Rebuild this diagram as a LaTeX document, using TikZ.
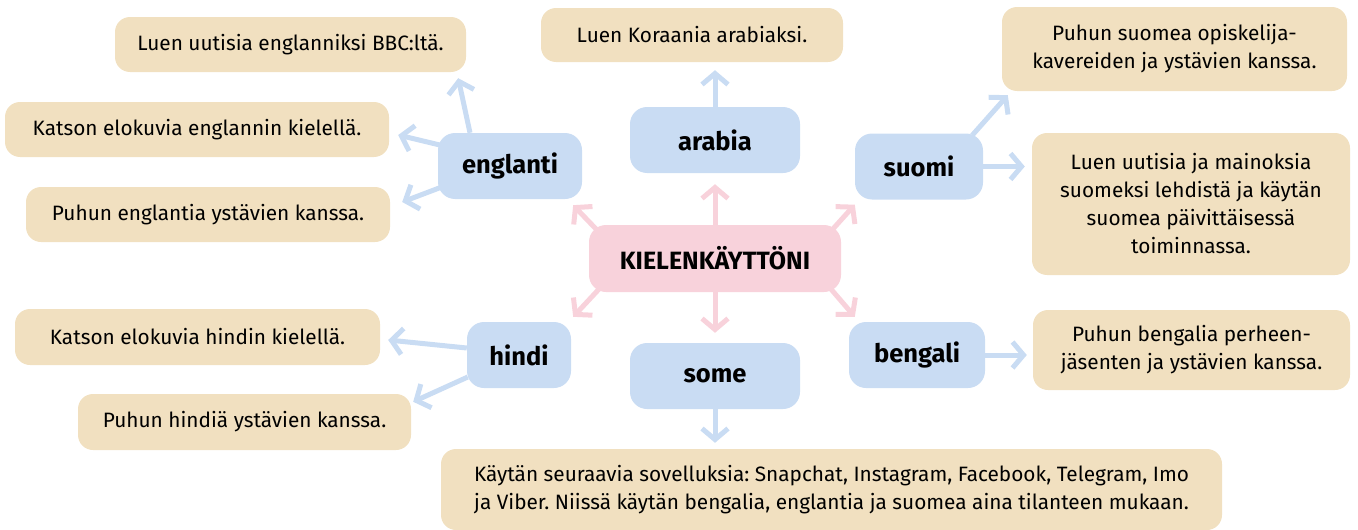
\documentclass[tikz,border=0pt]{standalone}
\usepackage{fontspec}
\setmainfont{Fira Sans}
\usetikzlibrary{arrows.meta,positioning,calc}
\frenchspacing

\definecolor{topicblue}{HTML}{C9DCF3}
\definecolor{notebeige}{HTML}{F1E0C0}
\definecolor{corepink}{HTML}{F8D2DB}

\begin{document}
\begin{tikzpicture}[
  x=1pt,y=-1pt,
  core/.style={fill=corepink,rounded corners=17pt,minimum width=252pt,minimum height=67pt,inner sep=0pt,font=\fontsize{25}{29}\selectfont\bfseries},
  topic/.style={fill=topicblue,rounded corners=17pt,minimum height=66pt,inner sep=0pt,font=\fontsize{25.5}{29}\selectfont\bfseries},
  note/.style={fill=notebeige,rounded corners=15pt,minimum height=55pt,align=center,inner sep=0pt,font=\fontsize{20.8}{28}\selectfont},
  arr/.style={-{Straight Barb[length=11pt,width=26pt]},line width=5pt,topicblue},
  parr/.style={arr,corepink}
]
\useasboundingbox (0,0) rectangle (1358,530);
% ---------- centre and topics ----------
\node[core] (core) at (715,258.5) {KIELENKÄYTTÖNI};
\node[topic,minimum width=144pt] (eng) at (510,166) {englanti};
\node[topic,minimum width=170pt] (ara) at (715,140) {arabia};
\node[topic,minimum width=128pt] (suo) at (919,166.5) {suomi};
\node[topic,minimum width=104pt] (hin) at (519,355) {hindi};
\node[topic,minimum width=170pt] (some) at (715,376) {some};
\node[topic,minimum width=136pt] (ben) at (917,355) {bengali};
% ---------- notes ----------
\node[note,minimum width=351pt] (bbc) at (290.5,44.5) {Luen uutisia englanniksi BBC:ltä.};
\node[note,minimum width=384pt] (kats) at (197,129.5) {Katson elokuvia englannin kielellä.};
\node[note,minimum width=364pt] (puen) at (208,214.5) {Puhun englantia ystävien kanssa.};
\node[note,minimum width=302pt,minimum height=54pt] (kor) at (692,35) {Luen Koraania arabiaksi.};
\node[note,minimum width=345pt,minimum height=84pt] (opis) at (1174.5,49) {Puhun suomea opiskelija-\\kavereiden ja ystävien kanssa.};
\node[note,minimum width=318pt,minimum height=142pt] (luen) at (1191,204) {Luen uutisia ja mainoksia\\suomeksi lehdistä ja käytän\\suomea päivittäisessä\\toiminnassa.};
\node[note,minimum width=317pt,minimum height=80pt] (bnot) at (1191.5,350) {Puhun bengalia perheen-\\jäsenten ja ystävien kanssa.};
\node[note,minimum width=365pt,minimum height=56pt] (khin) at (197.5,337) {Katson elokuvia hindin kielellä.};
\node[note,minimum width=333pt,minimum height=56pt] (phin) at (244.5,422) {Puhun hindiä ystävien kanssa.};
\node[note,minimum width=781pt,minimum height=81pt] (kay) at (831.5,489.5) {Käytän seuraavia sovelluksia: Snapchat, Instagram, Facebook, Telegram, Imo\\ja Viber. Niissä käytän bengalia, englantia ja suomea aina tilanteen mukaan.};
% ---------- pink arrows out of the centre ----------
\draw[parr] (core.north) -- ($(ara.south)+(0,11)$);
\draw[parr] (core.south) -- ($(some.north)+(0,-10)$);
\draw[parr] ($(core.north west)+(8,5)$) -- ($(eng.south east)+(-9,6)$);
\draw[parr] ($(core.north east)+(-9,5)$) -- ($(suo.south west)+(0,5)$);
\draw[parr] ($(core.south west)+(11,-4)$) -- ($(hin.north east)+(2,-5)$);
\draw[parr] ($(core.south east)+(-11,-4)$) -- ($(ben.north west)+(6,-5)$);
% ---------- blue arrows to the notes ----------
\draw[arr] ($(eng.north)+(-40,0)$) -- ($(bbc.south east)+(-8,6)$);
\draw[arr] ($(eng.west)+(2,-21)$) -- ($(kats.east)+(9,5.5)$);
\draw[arr] ($(eng.west)+(4,21)$) -- ($(puen.east)+(12,-12.5)$);
\draw[arr] (ara.north) -- ($(kor.south)+(23,8)$);
\draw[arr] ($(suo.north east)+(-11,2)$) -- ($(opis.south west)+(6,4)$);
\draw[arr,shorten >=7pt] (suo.east) -- (suo.east -| luen.west);
\draw[arr,shorten >=6pt] (ben.east) -- (ben.east -| bnot.west);
\draw[arr] ($(hin.west)+(0,-7)$) -- ($(khin.east)+(8,3)$);
\draw[arr] ($(hin.west)+(1,22)$) -- ($(phin.north east)+(2,8)$);
\draw[arr,shorten >=6pt] (some.south) -- (some.south |- kay.north);
\end{tikzpicture}
\end{document}
